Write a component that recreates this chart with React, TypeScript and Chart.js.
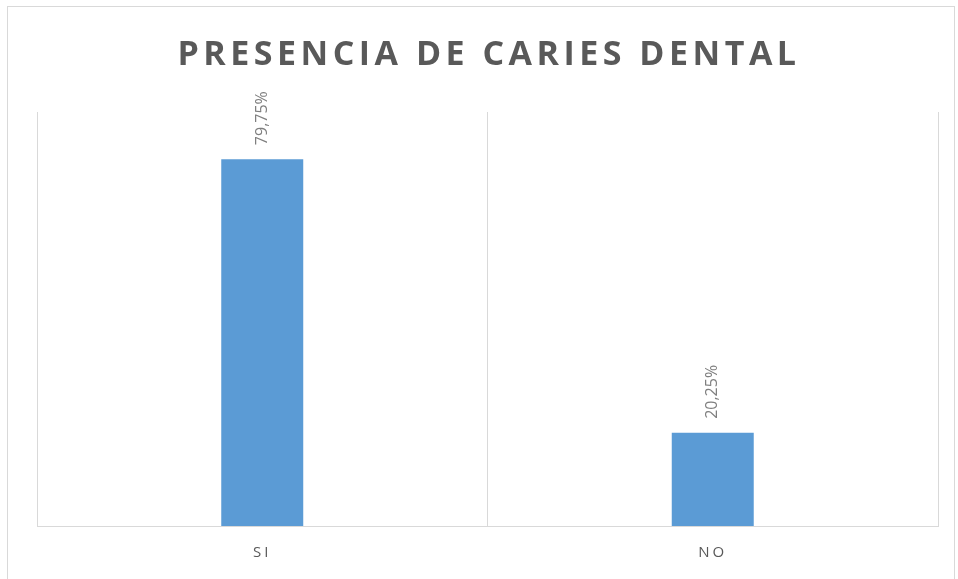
import React, { useEffect, useRef } from "react";
import { Chart, registerables } from "chart.js";

Chart.register(...registerables);

const categories = ["SI", "NO"];
const values = [79.75, 20.25];
const valueLabels = ["79,75%", "20,25%"];
const chartTitle = "PRESENCIA DE CARIES DENTAL";

const FONT = "'Open Sans', 'DejaVu Sans', sans-serif";

const decorPlugin = {
  id: "decor",
  beforeDraw(chart: any) {
    const ctx = chart.ctx;
    ctx.save();
    ctx.fillStyle = "#ffffff";
    ctx.fillRect(0, 0, chart.width, chart.height);
    ctx.strokeStyle = "#d9d9d9";
    ctx.lineWidth = 1;
    ctx.strokeRect(7.5, 6.5, 947, 600);
    ctx.restore();
    (ctx as any).letterSpacing = "3px";
  },
  afterDraw(chart: any) {
    const ctx = chart.ctx;
    ctx.save();
    // title
    (ctx as any).letterSpacing = "4.5px";
    ctx.font = `bold 34px ${FONT}`;
    ctx.fillStyle = "#595959";
    ctx.textAlign = "center";
    ctx.textBaseline = "alphabetic";
    ctx.fillText(chartTitle, 489, 65);
    // value labels
    (ctx as any).letterSpacing = "0px";
    ctx.font = `16px ${FONT}`;
    ctx.fillStyle = "#7f7f7f";
    const meta = chart.getDatasetMeta(0);
    meta.data.forEach((bar: any, i: number) => {
      ctx.save();
      ctx.translate(bar.x, bar.y - 14);
      ctx.rotate(-Math.PI / 2);
      ctx.textAlign = "left";
      ctx.textBaseline = "middle";
      ctx.fillText(valueLabels[i], 0, 0);
      ctx.restore();
    });
    ctx.restore();
    (ctx as any).letterSpacing = "0px";
  },
};

export default function App() {
  const ref = useRef<HTMLCanvasElement>(null);
  useEffect(() => {
    if (!ref.current) return;
    const chart = new Chart(ref.current, {
      type: "bar",
      data: {
        labels: categories,
        datasets: [
          {
            data: values,
            backgroundColor: "#5b9bd5",
            borderWidth: 0,
            barPercentage: 0.182,
            categoryPercentage: 1,
          },
        ],
      },
      options: {
        responsive: false,
        animation: false,
        devicePixelRatio: 1,
        layout: { padding: { left: 37, right: 20, top: 112, bottom: 0 } },
        plugins: {
          legend: { display: false },
          title: { display: false },
          tooltip: { enabled: false },
        },
        scales: {
          x: {
            grid: {
              display: true,
              color: "#d9d9d9",
              drawTicks: false,
              offset: true,
            },
            border: { display: true, color: "#d9d9d9" },
            ticks: {
              color: "#595959",
              font: { family: FONT, size: 15 },
              padding: 17.5,
            },
          },
          y: {
            display: false,
            min: 0,
            max: 90,
          },
        },
      },
      plugins: [decorPlugin],
    });
    return () => chart.destroy();
  }, []);
  return (
    <div style={{ position: "fixed", left: 0, top: 0, width: 958, height: 579 }}>
      <canvas ref={ref} width={958} height={579} style={{ display: "block" }} />
    </div>
  );
}
